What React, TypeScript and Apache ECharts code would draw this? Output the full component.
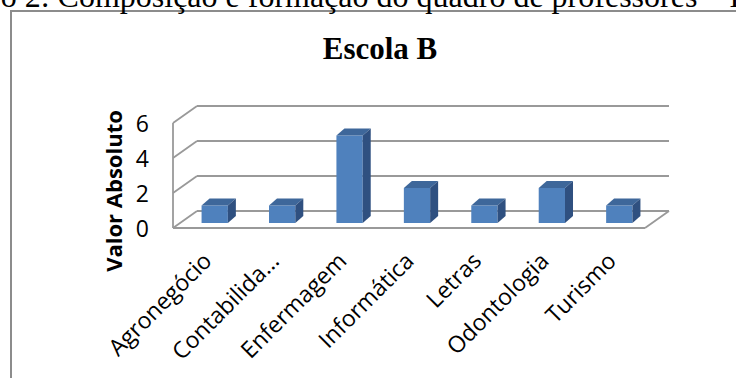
import React, { useEffect, useRef } from "react";
import * as echarts from "echarts";

const categories = ["Agronegócio", "Contabilida...", "Enfermagem", "Informática", "Letras", "Odontologia", "Turismo"];
const values = [1, 1, 5, 2, 1, 2, 1];
const yTicks = [0, 2, 4, 6];
const titleText = "Escola B";
const yAxisTitle = "Valor Absoluto";
const captionText = "o 2: Composição e formação do quadro de professores – I";

// 3D geometry offsets (pixels)
const WALL_DX = 24;
const WALL_DY = -17;
const MID_DX = 8;
const MID_DY = -5;
const BAR_DX = 8;
const BAR_DY = -7;

const WALL_COLOR = "#999999";
const FRONT = "#4f81bd";
const TOP = "#3e679a";
const SIDE = "#2f5080";
const AXIS_FONT = "Open Sans";

export default function App() {
  const ref = useRef<HTMLDivElement>(null);

  useEffect(() => {
    if (!ref.current) return;
    const chart = echarts.init(ref.current, null, { renderer: "svg" });

    const wallsRender = (params: any, api: any) => {
      const cs = params.coordSys;
      const x0 = cs.x;
      const x1 = cs.x + cs.width;
      const children: any[] = [];
      const lineStyle = { stroke: WALL_COLOR, lineWidth: 1.8, fill: null };
      yTicks.forEach((v) => {
        const y = api.coord([0, v])[1];
        children.push({ type: "line", shape: { x1: x0 + WALL_DX, y1: y + WALL_DY, x2: x1 + WALL_DX, y2: y + WALL_DY }, style: lineStyle });
        children.push({ type: "line", shape: { x1: x0, y1: y, x2: x0 + WALL_DX, y2: y + WALL_DY }, style: lineStyle });
      });
      const yTop = api.coord([0, yTicks[yTicks.length - 1]])[1];
      const y0 = api.coord([0, 0])[1];
      children.push({ type: "line", shape: { x1: x0, y1: yTop, x2: x0, y2: y0 }, style: lineStyle });
      children.push({ type: "line", shape: { x1: x0, y1: y0, x2: x1, y2: y0 }, style: lineStyle });
      children.push({ type: "line", shape: { x1: x1, y1: y0, x2: x1 + WALL_DX, y2: y0 + WALL_DY }, style: lineStyle });
      return { type: "group", children };
    };

    const barsRender = (params: any, api: any) => {
      const i = api.value(0);
      const v = api.value(1);
      const top = api.coord([i, v]);
      const base = api.coord([i, 0]);
      const bw = api.size([1, 0])[0] * 0.39;
      const fx = top[0] + MID_DX - bw / 2;
      const ty = top[1] + MID_DY;
      const by = base[1] + MID_DY;
      return {
        type: "group",
        children: [
          { type: "rect", shape: { x: fx, y: ty, width: bw, height: by - ty }, style: { fill: FRONT } },
          {
            type: "polygon",
            shape: { points: [[fx, ty], [fx + bw, ty], [fx + bw + BAR_DX, ty + BAR_DY], [fx + BAR_DX, ty + BAR_DY]] },
            style: { fill: TOP },
          },
          {
            type: "polygon",
            shape: { points: [[fx + bw, ty], [fx + bw + BAR_DX, ty + BAR_DY], [fx + bw + BAR_DX, by + BAR_DY], [fx + bw, by]] },
            style: { fill: SIDE },
          },
        ],
      };
    };

    chart.setOption({
      animation: false,
      backgroundColor: "#ffffff",
      grid: { left: 173, right: 91, top: 123, bottom: 150, containLabel: false },
      xAxis: {
        type: "category",
        data: categories,
        axisLine: { show: false },
        axisTick: { show: false },
        splitLine: { show: false },
        axisLabel: { rotate: 45, interval: 0, margin: 28, fontSize: 23, color: "#000", fontFamily: AXIS_FONT },
      },
      yAxis: {
        type: "value",
        min: 0,
        max: 6,
        interval: 2,
        axisLine: { show: false },
        axisTick: { show: false },
        splitLine: { show: false },
        axisLabel: { margin: 24, fontSize: 23, color: "#000", fontFamily: AXIS_FONT },
      },
      graphic: [
        { type: "rect", shape: { x: 11, y: 11, width: 800, height: 500 }, style: { fill: null, stroke: "#8c8c8c", lineWidth: 2 }, silent: true },
        {
          type: "text",
          x: 740,
          y: -4,
          style: { text: captionText, fontSize: 32, fontFamily: "Liberation Serif", fill: "#000", align: "right", verticalAlign: "middle" },
        },
        {
          type: "text",
          x: 380,
          y: 48,
          style: { text: titleText, fontSize: 31, fontWeight: "bold", fontFamily: "Liberation Serif", fill: "#000", align: "center", verticalAlign: "middle" },
        },
        {
          type: "text",
          x: 113,
          y: 191,
          rotation: Math.PI / 2,
          style: { text: yAxisTitle, fontSize: 22, fontWeight: "bold", fontFamily: AXIS_FONT, fill: "#000", align: "center", verticalAlign: "middle" },
        },
      ],
      series: [
        { type: "custom", name: "walls", renderItem: wallsRender, data: [[0, 0]], clip: false, silent: true, z: 1 },
        { type: "custom", name: "bars", renderItem: barsRender, data: values.map((v, i) => [i, v]), clip: false, z: 2 },
      ],
    });

    return () => chart.dispose();
  }, []);

  return <div ref={ref} style={{ position: "fixed", left: 0, top: 0, width: 736, height: 378 }} />;
}
